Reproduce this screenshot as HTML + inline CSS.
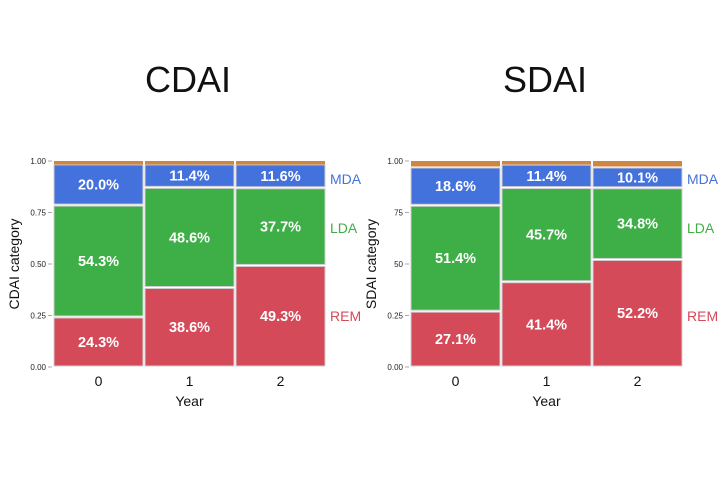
<!DOCTYPE html>
<html><head><meta charset="utf-8"><style>
body{margin:0;background:#fff;}
svg text{font-family:"Liberation Sans",sans-serif;}
</style></head><body>
<svg id="c" width="720" height="498" xmlns="http://www.w3.org/2000/svg"></svg>
<script>
const years = ["0","1","2"];
const categories = ["REM","LDA","MDA","Other"];
const cdaiREM = [24.3, 38.6, 49.3];
const cdaiLDA = [54.3, 48.6, 37.7];
const cdaiMDA = [20.0, 11.4, 11.6];
const sdaiREM = [27.1, 41.4, 52.2];
const sdaiLDA = [51.4, 45.7, 34.8];
const sdaiMDA = [18.6, 11.4, 10.1];
const cdaiTicks = ["0.00","0.25","0.50","0.75","1.00"];
const sdaiTicks = ["0.00","0.25","50","75","1.00"];
const tickVals = [0, 0.25, 0.5, 0.75, 1];

const svg = document.getElementById('c');
const NS = "http://www.w3.org/2000/svg";
const colors = {REM:"#d44a58", LDA:"#3eae47", MDA:"#4472dd", Other:"#d08640"};
function mk(tag, attrs, parent){const e=document.createElementNS(NS,tag);for(const k in attrs)e.setAttribute(k,attrs[k]);(parent||svg).appendChild(e);return e;}

function panel(p){
  const g = mk('g',{});
  
  
  const y = v => p.y0 - v*(p.y0-p.y1);
  const colW = (p.x1-p.x0)/years.length;
  const x = i => p.x0 + i*colW;
  const t = mk('text',{x:p.titleX,y:92,'font-size':36,'text-anchor':'middle',fill:'#111'},g);
  t.textContent = p.title;
  
  
  tickVals.forEach((v,i)=>{
    mk('line',{x1:p.x0-5,x2:p.x0-1,y1:y(v),y2:y(v),stroke:'#aaa','stroke-width':1},g);
    const tl = mk('text',{x:p.x0-7,y:y(v)+3,'font-size':8,'text-anchor':'end',fill:'#222'},g);
    tl.textContent = p.ticks[i];
    
    
  });
  const yt = mk('text',{transform:`translate(${p.x0-34},${(p.y0+p.y1)/2}) rotate(-90)`,'font-size':14,'text-anchor':'middle',fill:'#111'},g);
  yt.textContent = p.ytitle;
  
  
  years.forEach((yr,i)=>{
    const segs = [["REM",p.rem[i]],["LDA",p.lda[i]],["MDA",p.mda[i]]];
    let acc = 0;
    segs.forEach(([cat,val])=>{
      const lo = acc/100, hi = (acc+val)/100;
      acc += val;
      const r = mk('rect',{x:x(i)+1,y:y(hi)+1,width:colW-2,height:Math.max(0,y(lo)-y(hi)-2),fill:colors[cat],stroke:'#cfcfcf','stroke-width':1},g);
      
      
      const lt = mk('text',{x:x(i)+colW/2,y:(y(lo)+y(hi))/2+5,'font-size':14.5,'font-weight':'bold','text-anchor':'middle',fill:'#fff'},g);
      lt.textContent = val.toFixed(1)+'%';
      
      
    });
    const top = y(1), bot = Math.max(y(acc/100), top+4);
    const o = mk('rect',{x:x(i)+1,y:top,width:colW-2,height:bot-top-0.5,fill:colors.Other},g);
    
    
    const xl = mk('text',{x:x(i)+colW/2,y:386,'font-size':14,'text-anchor':'middle',fill:'#111'},g);
    xl.textContent = yr;
    
    
  });
  const xt = mk('text',{x:(p.x0+p.x1)/2,y:406,'font-size':14,'text-anchor':'middle',fill:'#111'},g);
  xt.textContent = 'Year';
  
  
  [["MDA",184],["LDA",233],["REM",321]].forEach(([c,yy])=>{
    const l = mk('text',{x:p.x1+4,y:yy,'font-size':14,fill:colors[c]},g);
    l.textContent = c;
    
    
  });
}
panel({name:'cdai-panel',title:'CDAI',titleX:188,ytitle:'CDAI category',x0:53,x1:326,y0:367,y1:161,rem:cdaiREM,lda:cdaiLDA,mda:cdaiMDA,ticks:cdaiTicks});
panel({name:'sdai-panel',title:'SDAI',titleX:545,ytitle:'SDAI category',x0:410,x1:683,y0:367,y1:161,rem:sdaiREM,lda:sdaiLDA,mda:sdaiMDA,ticks:sdaiTicks});
</script>
</body></html>
